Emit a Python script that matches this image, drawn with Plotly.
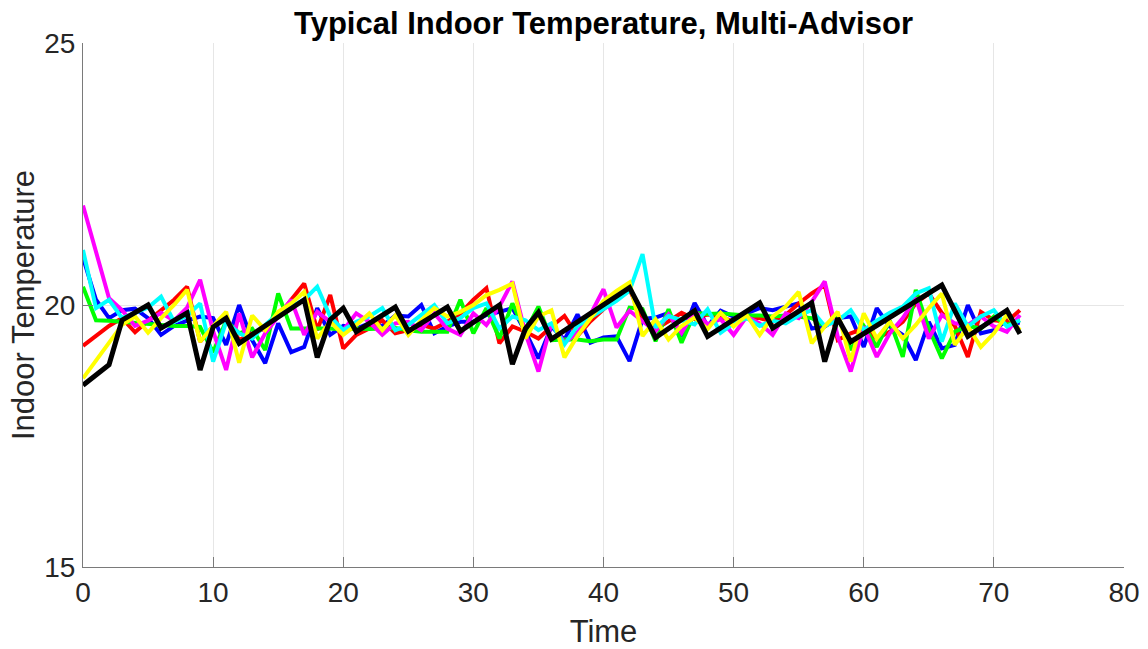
import plotly.graph_objects as go

time = list(range(73))

blue = [20.9, 20.1, 19.75, 19.9, 19.93, 19.75, 19.43, 19.6, 19.7, 19.78, 19.75, 19.24, 20.0, 19.33, 18.89,
        19.65, 19.1, 19.2, 19.94, 19.43, 19.6, 19.55, 19.65, 19.6, 19.8, 19.78, 20.0, 19.46, 19.59, 19.68,
        19.68, 19.81, 19.87, 19.94, 19.49, 18.98, 19.59, 19.34, 19.82, 19.28, 19.38, 19.4, 18.93, 19.73, 19.76,
        19.85, 19.41, 20.04, 19.6, 19.89, 19.78, 19.84, 19.94, 19.9, 19.97, 20.03, 19.55, 19.59, 19.75, 19.78,
        19.2, 19.94, 19.59, 19.43, 18.95, 19.68, 19.17, 19.24, 20.0, 19.46, 19.52, 19.71, 19.65]

red = [19.22, 19.42, 19.6, 19.75, 19.48, 19.7, 19.9, 20.1, 20.35, 19.3, 19.6, 19.75, 19.33, 19.46, 19.55,
       19.78, 20.1, 20.41, 19.52, 20.19, 19.17, 19.43, 19.55, 19.71, 19.46, 19.52, 19.62, 19.55, 19.68, 19.84,
       20.1, 20.32, 19.27, 19.59, 19.49, 19.36, 19.59, 19.79, 19.41, 19.69, 19.92, 20.11, 20.3, 19.73, 19.54,
       19.69, 19.85, 19.73, 19.82, 19.78, 19.68, 19.75, 19.75, 19.68, 19.81, 20.03, 20.22, 20.38, 19.33, 19.46,
       19.55, 19.36, 19.49, 19.68, 20.03, 20.22, 19.85, 19.6, 19.01, 19.87, 19.71, 19.68, 19.9]

green = [20.35, 19.71, 19.7, 19.68, 19.66, 19.65, 19.62, 19.6, 19.6, 19.58, 19.1, 19.7, 19.46, 19.55, 19.14,
         20.22, 19.55, 19.55, 19.55, 19.55, 19.53, 19.55, 19.54, 19.55, 19.56, 19.52, 19.49, 19.49, 19.49, 20.1,
         19.46, 19.94, 19.36, 20.03, 19.49, 19.97, 19.33, 19.34, 19.34, 19.31, 19.34, 19.34, 19.95, 19.92, 19.31,
         19.92, 19.28, 19.85, 19.83, 19.84, 19.82, 19.8, 19.8, 19.78, 19.8, 19.78, 19.75, 19.6, 19.8, 19.14,
         19.6, 19.2, 19.7, 19.01, 20.29, 19.55, 18.98, 19.49, 19.6, 19.55, 19.78, 19.62, 19.71]

magenta = [21.9, 21.0, 20.13, 19.9, 19.6, 19.7, 19.85, 19.7, 19.95, 20.48, 19.5, 18.76, 19.84, 19.0, 19.46,
           19.78, 20.1, 19.43, 19.87, 19.68, 19.52, 19.84, 19.68, 19.43, 19.65, 19.68, 19.52, 19.84, 19.55, 19.43,
           19.84, 19.62, 19.97, 20.45, 19.46, 18.73, 19.65, 19.28, 19.47, 19.82, 20.3, 19.57, 19.89, 19.69, 19.5,
           19.82, 19.47, 19.89, 19.63, 19.73, 19.43, 19.78, 19.65, 19.43, 19.84, 19.75, 20.06, 20.45, 19.4, 18.73,
           19.59, 19.01, 19.46, 19.75, 20.13, 19.36, 19.81, 19.65, 19.62, 19.78, 19.59, 19.49, 19.81]

cyan = [21.05, 19.94, 20.1, 19.75, 19.85, 19.95, 20.16, 19.68, 19.8, 20.03, 18.92, 19.68, 19.46, 19.36, 19.62,
        19.84, 19.97, 20.1, 20.35, 19.78, 19.52, 19.68, 19.78, 19.94, 19.52, 19.62, 19.81, 20.0, 19.65, 19.75,
        19.94, 20.03, 19.55, 19.78, 19.71, 19.52, 19.65, 19.25, 19.6, 19.75, 19.92, 20.08, 20.27, 20.97, 19.57,
        19.79, 19.7, 19.63, 19.92, 19.47, 19.65, 19.75, 19.6, 19.7, 19.65, 19.8, 19.9, 19.6, 19.7, 19.9,
        19.52, 19.7, 19.85, 19.97, 20.22, 20.32, 19.3, 20.03, 19.59, 19.78, 19.9, 19.59, 19.71]

yellow = [18.6, 18.95, 19.3, 19.62, 19.78, 19.47, 19.75, 20.0, 20.29, 19.3, 19.6, 19.87, 18.9, 19.8, 19.52,
          19.87, 20.03, 20.25, 19.36, 19.68, 19.43, 19.62, 19.84, 19.52, 19.8, 19.43, 19.71, 19.94, 19.78, 19.87,
          20.0, 20.19, 20.29, 20.41, 19.36, 19.78, 19.9, 19.0, 19.41, 19.76, 20.08, 20.27, 20.43, 19.41, 19.73,
          19.34, 19.6, 19.76, 19.54, 19.85, 19.59, 19.81, 19.43, 19.78, 19.97, 20.25, 19.27, 19.59, 19.87, 18.92,
          19.84, 19.36, 19.68, 19.36, 19.62, 19.94, 20.22, 19.24, 19.59, 19.2, 19.46, 19.81, 19.52]

black_t = [0, 2, 3, 5, 6, 8, 9, 10, 11, 12, 17, 18, 19, 20, 21, 24, 25, 28, 29, 32, 33, 34, 35, 36,
           42, 44, 47, 48, 52, 53, 56, 57, 58, 59, 66, 68, 71, 72]
black = [18.47, 18.86, 19.71, 20.0, 19.56, 19.85, 18.76, 19.58, 19.75, 19.27, 20.1, 19.0, 19.72, 19.94,
         19.49, 19.96, 19.5, 19.96, 19.5, 20.0, 18.87, 19.55, 19.86, 19.35, 20.33, 19.38, 19.89, 19.4,
         20.04, 19.56, 20.04, 18.92, 19.75, 19.3, 20.38, 19.4, 19.9, 19.45]

x_ticks = [0, 10, 20, 30, 40, 50, 60, 70, 80]
y_ticks = [15, 20, 25]

series = [
    ("blue", blue, "#0000ff"),
    ("red", red, "#ff0000"),
    ("green", green, "#00ff00"),
    ("magenta", magenta, "#ff00ff"),
    ("cyan", cyan, "#00ffff"),
    ("yellow", yellow, "#ffff00"),
]

FONT = "Liberation Sans, Arial, sans-serif"

fig = go.Figure()
for name, vals, col in series:
    fig.add_trace(go.Scatter(x=time, y=vals, mode="lines", name=name,
                             line=dict(color=col, width=4)))
fig.add_trace(go.Scatter(x=black_t, y=black, mode="lines", name="black",
                         line=dict(color="#000000", width=5)))

axis_common = dict(
    showgrid=True, gridcolor="#e6e6e6", gridwidth=1,
    showline=True, linecolor="#7a7a7a", linewidth=1,
    ticks="inside", ticklen=10, tickcolor="#7a7a7a",
    tickfont=dict(family=FONT, size=28, color="#262626"),
    zeroline=False, mirror=False, automargin=False,
)

fig.update_layout(
    width=1148, height=649,
    margin=dict(l=83, r=24, t=43, b=82),
    paper_bgcolor="white", plot_bgcolor="white",
    showlegend=False,
    title=dict(text="<b>Typical Indoor Temperature, Multi-Advisor</b>",
               x=0.5, xref="paper", xanchor="center", y=0.965, yanchor="middle",
               font=dict(family=FONT, size=31, color="#000000")),
    xaxis=dict(range=[0, 80], tickvals=x_ticks, ticklabelstandoff=0,
               title=dict(text="Time", standoff=14,
                          font=dict(family=FONT, size=31, color="#262626")),
               **axis_common),
    yaxis=dict(range=[15, 25], tickvals=y_ticks, ticklabelstandoff=1,
               title=dict(text="Indoor Temperature", standoff=0,
                          font=dict(family=FONT, size=31, color="#262626")),
               **axis_common),
)

fig.write_html("out.html")
